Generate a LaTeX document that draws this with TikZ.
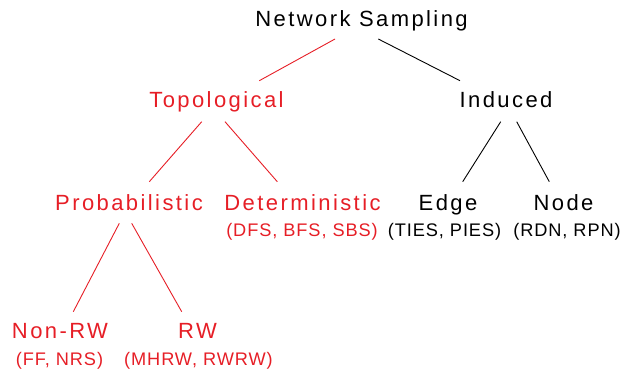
\documentclass[tikz,border=0pt]{standalone}
\usepackage{fontspec}
\setmainfont{Liberation Sans}
\newfontfamily\mainlbl[LetterSpace=11]{Liberation Sans}
\newfontfamily\sublbl[LetterSpace=5]{Liberation Sans}
\definecolor{topored}{RGB}{230,30,38}
\begin{document}
\begin{tikzpicture}[x=1pt,y=-1pt,
  lbl/.style={anchor=base,inner sep=0pt,font=\mainlbl\fontsize{22}{25}\selectfont},
  sub/.style={anchor=base,inner sep=0pt,font=\sublbl\fontsize{18.2}{21}\selectfont},
  red/.style={text=topored},
  edge/.style={draw=black,line width=0.9pt},
  redge/.style={draw=topored,line width=0.9pt}]
\useasboundingbox (0,0) rectangle (628,370);

% labels, placed on their baselines
\node[lbl] (root) at (361.5,26.7) {Network Sampling};
\node[lbl,red] (topo) at (216.5,107) {Topological};
\node[lbl] (ind) at (506,107) {Induced};
\node[lbl,red] (prob) at (129,210) {Probabilistic};
\node[lbl,red] (det) at (302.5,210) {Deterministic};
\node[sub,red] (dets) at (302,236) {(DFS, BFS, SBS)};
\node[lbl] (edg) at (448,210) {Edge};
\node[sub] (edgs) at (444.5,236) {(TIES, PIES)};
\node[lbl] (nod) at (563.5,210) {Node};
\node[sub] (nods) at (567,236) {(RDN, RPN)};
\node[lbl,red] (nrw) at (60,338) {Non-RW};
\node[sub,red] (nrws) at (59.5,365) {(FF, NRS)};
\node[lbl,red] (rw) at (197.5,338) {RW};
\node[sub,red] (rws) at (198.5,365) {(MHRW, RWRW)};

% tree connectors
\draw[redge] ([shift={(-26.5,12.3)}]root.base) -- ([shift={(42.8,-26.3)}]topo.base);
\draw[edge]  ([shift={(16.8,12.3)}]root.base) -- ([shift={(-46,-26.3)}]ind.base);
\draw[redge] ([shift={(-14.8,14.7)}]topo.base) -- ([shift={(20.3,-28.3)}]prob.base);
\draw[redge] ([shift={(8.5,14.7)}]topo.base) -- ([shift={(-25.2,-28.3)}]det.base);
\draw[edge]  ([shift={(-5.3,14.7)}]ind.base) -- ([shift={(14.7,-28.3)}]edg.base);
\draw[edge]  ([shift={(10.7,14.7)}]ind.base) -- ([shift={(-14.2,-28.3)}]nod.base);
\draw[redge] ([shift={(-9.7,13.3)}]prob.base) -- ([shift={(13.3,-26.3)}]nrw.base);
\draw[redge] ([shift={(2.7,13.3)}]prob.base) -- ([shift={(-15.8,-26.3)}]rw.base);
\end{tikzpicture}
\end{document}
